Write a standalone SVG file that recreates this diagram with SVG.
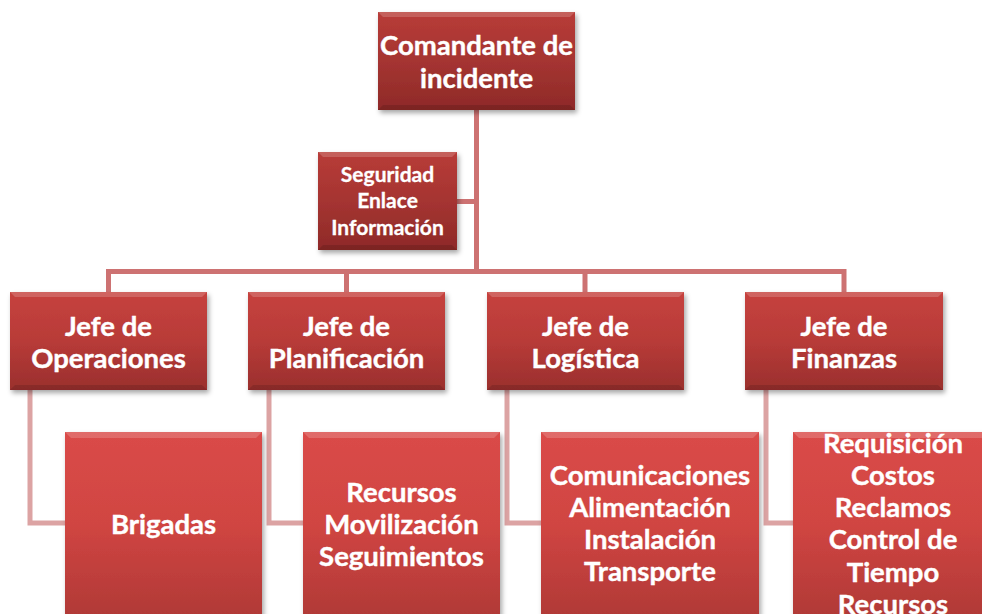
<svg xmlns="http://www.w3.org/2000/svg" width="982" height="614" viewBox="0 0 982 614">
<defs>
<linearGradient id="gDark" x1="0" y1="0" x2="0" y2="1">
<stop offset="0" stop-color="#b83c38"/>
<stop offset="0.5" stop-color="#a53431"/>
<stop offset="1" stop-color="#8e2a28"/>
</linearGradient>
<linearGradient id="gMid" x1="0" y1="0" x2="0" y2="1">
<stop offset="0" stop-color="#c6423e"/>
<stop offset="0.5" stop-color="#b83b38"/>
<stop offset="1" stop-color="#9a2f2d"/>
</linearGradient>
<linearGradient id="gLight" x1="0" y1="0" x2="0" y2="1">
<stop offset="0" stop-color="#da4b48"/>
<stop offset="0.5" stop-color="#d04542"/>
<stop offset="1" stop-color="#b03936"/>
</linearGradient>
<filter id="sh" x="-10%" y="-10%" width="125%" height="130%">
<feDropShadow dx="2" dy="3" stdDeviation="2.5" flood-color="#000" flood-opacity="0.35"/>
</filter>
</defs>
<style>
.t{font-family:Lato,"Liberation Sans",sans-serif;font-weight:700;fill:#fff;text-anchor:middle;font-size:27.5px;stroke:#fff;stroke-width:0.4}
.s{font-size:21px;stroke-width:0.3}
.main{fill:none;stroke:#cd7272;stroke-width:5}
.sub{fill:none;stroke:#dca3a3;stroke-width:5}
.hl{fill:#fff;opacity:0.18}
.dk{fill:#000;opacity:0.12}
</style>
<g id="connectors">
<path class="main" d="M476.5 110 V271.5 M108.5 271.5 H844 M108.5 269 V292 M346.5 269 V292 M585 269 V292 M844 269 V292 M457 201.5 H476.5"/>
<path class="sub" d="M30 390 V523 H65 M269 390 V523 H303 M507 390 V523 H541 M766 390 V523 H793"/>
</g>
<g id="n-comandante">
<rect x="378" y="12" width="197" height="98" fill="url(#gDark)" filter="url(#sh)"/>
<path class="hl" d="M378 12 H575 L570 17 H383 Z"/>
<path class="dk" d="M378 110 H575 L570 105 H383 Z"/>
<text class="t" x="476.5" y="55">Comandante de</text>
<text class="t" x="476.5" y="87.5">incidente</text>
</g>
<g id="n-seguridad">
<rect x="318" y="152" width="139" height="98" fill="url(#gDark)" filter="url(#sh)"/>
<path class="hl" d="M318 152 H457 L452 157 H323 Z"/>
<path class="dk" d="M318 250 H457 L452 245 H323 Z"/>
<text class="t s" x="387.5" y="181.5">Seguridad</text>
<text class="t s" x="387.5" y="208">Enlace</text>
<text class="t s" x="387.5" y="234.5">Información</text>
</g>
<g id="n-operaciones">
<rect x="10" y="292" width="197" height="98" fill="url(#gMid)" filter="url(#sh)"/>
<path class="hl" d="M10 292 H207 L202 297 H15 Z"/>
<path class="dk" d="M10 390 H207 L202 385 H15 Z"/>
<text class="t" x="108.5" y="335.5">Jefe de</text>
<text class="t" x="108.5" y="367.5">Operaciones</text>
</g>
<g id="n-planificacion">
<rect x="248" y="292" width="197" height="98" fill="url(#gMid)" filter="url(#sh)"/>
<path class="hl" d="M248 292 H445 L440 297 H253 Z"/>
<path class="dk" d="M248 390 H445 L440 385 H253 Z"/>
<text class="t" x="346.5" y="335.5">Jefe de</text>
<text class="t" x="346.5" y="367.5">Planificación</text>
</g>
<g id="n-logistica">
<rect x="487" y="292" width="197" height="98" fill="url(#gMid)" filter="url(#sh)"/>
<path class="hl" d="M487 292 H684 L679 297 H492 Z"/>
<path class="dk" d="M487 390 H684 L679 385 H492 Z"/>
<text class="t" x="585.5" y="335.5">Jefe de</text>
<text class="t" x="585.5" y="367.5">Logística</text>
</g>
<g id="n-finanzas">
<rect x="745" y="292" width="198" height="98" fill="url(#gMid)" filter="url(#sh)"/>
<path class="hl" d="M745 292 H943 L938 297 H750 Z"/>
<path class="dk" d="M745 390 H943 L938 385 H750 Z"/>
<text class="t" x="844" y="335.5">Jefe de</text>
<text class="t" x="844" y="367.5">Finanzas</text>
</g>
<g id="n-brigadas">
<rect x="65" y="432" width="197" height="186" fill="url(#gLight)" filter="url(#sh)"/>
<path class="hl" d="M65 432 H262 L256 438 H71 Z"/>
<text class="t" x="163.5" y="533.5">Brigadas</text>
</g>
<g id="n-recursos">
<rect x="303" y="432" width="197" height="186" fill="url(#gLight)" filter="url(#sh)"/>
<path class="hl" d="M303 432 H500 L494 438 H309 Z"/>
<text class="t" x="401.5" y="501.5">Recursos</text>
<text class="t" x="401.5" y="533.5">Movilización</text>
<text class="t" x="401.5" y="565.5">Seguimientos</text>
</g>
<g id="n-comunicaciones">
<rect x="541" y="432" width="218" height="186" fill="url(#gLight)" filter="url(#sh)"/>
<path class="hl" d="M541 432 H759 L753 438 H547 Z"/>
<text class="t" x="650" y="484.5">Comunicaciones</text>
<text class="t" x="650" y="516.8">Alimentación</text>
<text class="t" x="650" y="549">Instalación</text>
<text class="t" x="650" y="581.4">Transporte</text>
</g>
<g id="n-requisicion">
<rect x="793" y="432" width="198" height="186" fill="url(#gLight)" filter="url(#sh)"/>
<path class="hl" d="M793 432 H991 L985 438 H799 Z"/>
<text class="t" x="893" y="452.5">Requisición</text>
<text class="t" x="893" y="484.8">Costos</text>
<text class="t" x="893" y="517">Reclamos</text>
<text class="t" x="893" y="549.4">Control de</text>
<text class="t" x="893" y="581.6">Tiempo</text>
<text class="t" x="893" y="614">Recursos</text>
</g>
</svg>
